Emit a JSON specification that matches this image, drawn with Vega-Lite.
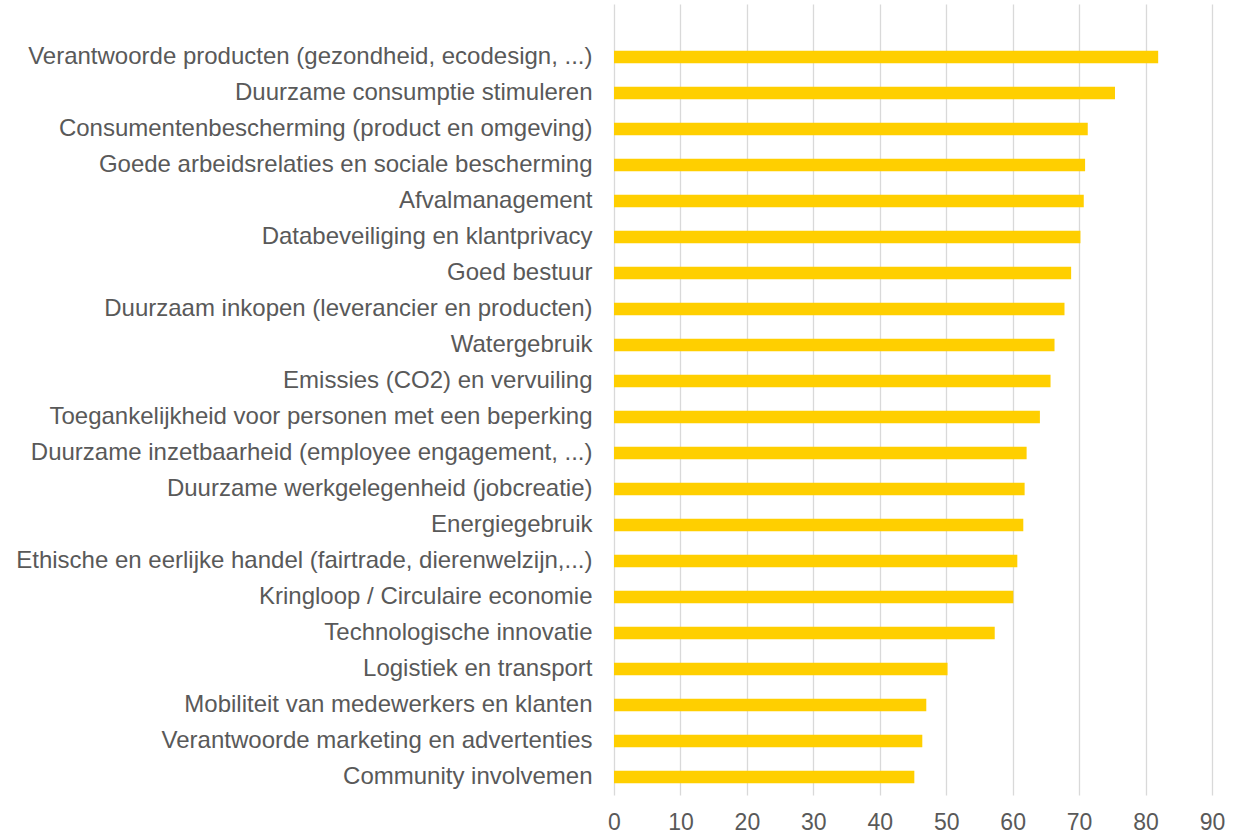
{
  "$schema": "https://vega.github.io/schema/vega-lite/v6.json",
  "width": 598,
  "height": 791,
  "autosize": {"type": "none"},
  "padding": {"left": 614, "top": 4, "right": 34, "bottom": 41},
  "background": "white",
  "config": {"view": {"stroke": null}, "font": "Liberation Sans"},
  "data": {
    "values": [
      {"topic": "Verantwoorde producten (gezondheid, ecodesign, ...)", "value": 81.9},
      {"topic": "Duurzame consumptie stimuleren", "value": 75.4},
      {"topic": "Consumentenbescherming (product en omgeving)", "value": 71.3},
      {"topic": "Goede arbeidsrelaties en sociale bescherming", "value": 70.9},
      {"topic": "Afvalmanagement", "value": 70.7},
      {"topic": "Databeveiliging en klantprivacy", "value": 70.2},
      {"topic": "Goed bestuur", "value": 68.8},
      {"topic": "Duurzaam inkopen (leverancier en producten)", "value": 67.8},
      {"topic": "Watergebruik", "value": 66.3},
      {"topic": "Emissies (CO2) en vervuiling", "value": 65.7},
      {"topic": "Toegankelijkheid voor personen met een beperking", "value": 64.1},
      {"topic": "Duurzame inzetbaarheid (employee engagement, ...)", "value": 62.1},
      {"topic": "Duurzame werkgelegenheid (jobcreatie)", "value": 61.8},
      {"topic": "Energiegebruik", "value": 61.6},
      {"topic": "Ethische en eerlijke handel (fairtrade, dierenwelzijn,...)", "value": 60.7},
      {"topic": "Kringloop / Circulaire economie", "value": 60.1},
      {"topic": "Technologische innovatie", "value": 57.3},
      {"topic": "Logistiek en transport", "value": 50.2},
      {"topic": "Mobiliteit van medewerkers en klanten", "value": 47.0},
      {"topic": "Verantwoorde marketing en advertenties", "value": 46.4},
      {"topic": "Community involvemen", "value": 45.2}
    ]
  },
  "mark": {"type": "bar", "color": "#FFCF00"},
  "encoding": {
    "y": {
      "field": "topic",
      "type": "nominal",
      "sort": null,
      "scale": {"paddingInner": 0.65, "paddingOuter": 0.81, "align": 0.8},
      "axis": {
        "title": null,
        "domain": false,
        "ticks": false,
        "grid": false,
        "labelFontSize": 24,
        "labelColor": "#595959",
        "labelPadding": 22,
        "labelLimit": 800
      }
    },
    "x": {
      "field": "value",
      "type": "quantitative",
      "scale": {"domain": [0, 90], "nice": false},
      "axis": {
        "title": null,
        "values": [0, 10, 20, 30, 40, 50, 60, 70, 80, 90],
        "domain": false,
        "ticks": false,
        "grid": true,
        "gridColor": "#D9D9D9",
        "gridWidth": 1.3,
        "labelFontSize": 23,
        "labelColor": "#595959",
        "labelPadding": 16,
        "labelFlush": false
      }
    }
  }
}
